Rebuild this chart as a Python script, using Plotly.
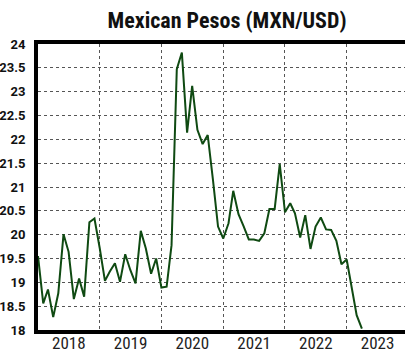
import plotly.graph_objects as go
import pandas as pd

start_month = "2018-01-01"
mxn_usd = [
    19.55, 18.56, 18.85, 18.27, 18.77, 20.01, 19.64, 18.65, 19.08, 18.70, 20.26, 20.34,
    19.72, 19.03, 19.22, 19.40, 19.01, 19.59, 19.26, 18.98, 20.08, 19.71, 19.18, 19.50,
    18.89, 18.91, 19.78, 23.47, 23.82, 22.14, 23.12, 22.20, 21.90, 22.09, 21.15, 20.17,
    19.92, 20.24, 20.92, 20.43, 20.18, 19.90, 19.90, 19.87, 20.03, 20.54, 20.54, 21.48,
    20.47, 20.66, 20.45, 19.94, 20.41, 19.70, 20.17, 20.36, 20.11, 20.10, 19.87, 19.38,
    19.48, 18.90, 18.31, 18.03,
]
dates = pd.date_range(start_month, periods=len(mxn_usd), freq="MS")
y_ticks = [18 + 0.5 * i for i in range(13)]
y_tick_labels = [f"{v:g}" for v in y_ticks]

narrow = "Roboto Condensed, DejaVu Sans Condensed, Roboto, sans-serif"

fig = go.Figure()
fig.add_trace(go.Scatter(
    x=dates, y=mxn_usd, mode="lines",
    line=dict(color="#0f4a12", width=2),
    hoverinfo="skip", showlegend=False,
))

fig.update_layout(
    width=405, height=352,
    margin=dict(l=38, r=0, t=44, b=22, autoexpand=False),
    paper_bgcolor="white", plot_bgcolor="white",
    title=dict(
        text="<b>Mexican Pesos (MXN/USD)</b>",
        x=227 / 405, xanchor="center", y=1 - 20 / 352, yanchor="middle",
        font=dict(family=narrow, size=22, color="#111111"),
    ),
    xaxis=dict(
        type="date",
        range=["2018-01-01", "2023-12-12"],
        tick0="2018-01-01", dtick="M12",
        tickformat="%Y", ticklabelmode="period",
        showgrid=True, gridcolor="#555555", griddash="dot", gridwidth=1,
        showline=True, linecolor="black", linewidth=4, mirror=True,
        ticks="", zeroline=False, automargin=False, ticklabelstandoff=-5,
        tickfont=dict(family=narrow, size=17, color="#222222"),
    ),
    yaxis=dict(
        range=[18, 24],
        tickvals=y_ticks, ticktext=y_tick_labels,
        showgrid=True, gridcolor="#555555", griddash="dot", gridwidth=1,
        showline=True, linecolor="black", linewidth=4, mirror=False,
        ticks="", zeroline=False, ticklabelstandoff=6, automargin=False,
        tickfont=dict(family="Roboto, sans-serif", size=13, color="#111111", weight="bold"),
    ),
)

fig.write_html(
    "out.html",
    config={"displayModeBar": False},
    post_script="document.body.style.margin='0';document.body.style.overflow='hidden';",
)
